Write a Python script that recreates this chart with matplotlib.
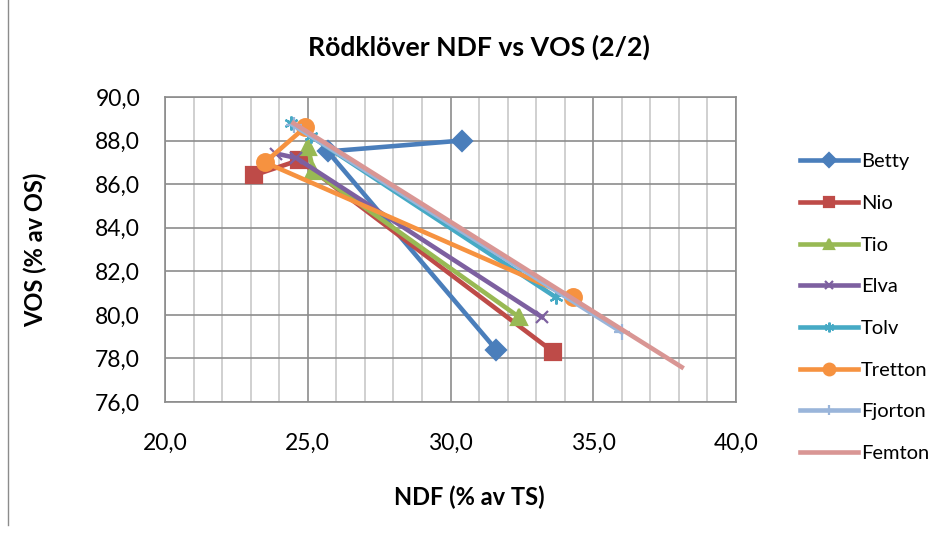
import matplotlib
matplotlib.use("Agg")
import matplotlib.pyplot as plt
from matplotlib.lines import Line2D
from matplotlib.ticker import MultipleLocator, FuncFormatter

plt.rcParams['font.family'] = ['Lato', 'DejaVu Sans']

names = ["Betty", "Nio", "Tio", "Elva", "Tolv", "Tretton", "Fjorton", "Femton"]
ndf = [
    [30.4, 25.7, 31.6],
    [23.1, 24.7, 33.6],
    [25.0, 25.2, 32.4],
    [23.9, 24.6, 33.2],
    [24.4, 25.1, 33.7],
    [24.9, 23.5, 34.3],
    [24.5, 36.0],
    [24.5, 38.1],
]
vos = [
    [88.0, 87.5, 78.4],
    [86.4, 87.1, 78.3],
    [87.7, 86.6, 79.9],
    [87.4, 87.2, 79.9],
    [88.8, 88.2, 80.8],
    [88.6, 87.0, 80.8],
    [88.7, 79.2],
    [88.8, 77.6],
]
colors = ["#4A7EBB", "#BE4B48", "#98B954", "#7D60A0", "#46AAC5", "#F69240", "#9AB5DA", "#D99694"]
markers = ["D", "s", "^", "x", (6, 2, 0), "o", "+", "None"]
msizes = [10, 11, 11, 9, 10, 12, 11, 0]

fig = plt.figure(figsize=(9.42, 5.34), dpi=100)
ax = fig.add_axes([0.1752, 0.2472, 0.6061, 0.5712])

for i in range(len(names)):
    ax.plot(ndf[i], vos[i], color=colors[i], lw=3.3, marker=markers[i],
            markersize=msizes[i], markerfacecolor=colors[i], markeredgecolor=colors[i],
            markeredgewidth=1.6, label=names[i], zorder=3 + i)

ax.set_xlim(20, 40)
ax.set_ylim(76, 90)
ax.xaxis.set_major_locator(MultipleLocator(5))
ax.xaxis.set_minor_locator(MultipleLocator(1))
ax.yaxis.set_major_locator(MultipleLocator(2))
fmt = FuncFormatter(lambda v, p: ("%.1f" % v).replace(".", ","))
ax.xaxis.set_major_formatter(fmt)
ax.yaxis.set_major_formatter(fmt)
ax.grid(which="major", color="#8C8C8C", lw=1.2, zorder=0)
ax.grid(which="minor", axis="x", color="#C8C8C8", lw=1.2, zorder=0)
ax.set_axisbelow(True)
ax.tick_params(which="both", length=0, labelsize=16.5)
ax.tick_params(axis="x", pad=22)
ax.tick_params(axis="y", pad=18)
for s in ax.spines.values():
    s.set_color("#8C8C8C")
    s.set_linewidth(1.2)

ax.set_xlabel("NDF (% av TS)", fontsize=17, fontweight="bold", va="center")
ax.set_ylabel("VOS (% av OS)", fontsize=17, fontweight="bold", va="center")
ax.xaxis.set_label_coords(0.533, -0.3115)
ax.yaxis.set_label_coords(-0.2277, 0.5)
fig.text(0.508, 0.912, "Rödklöver NDF vs VOS (2/2)", fontsize=19.2, fontweight="bold",
         ha="center", va="center")

fig.legend(loc="upper left", bbox_to_anchor=(0.841, 0.728), frameon=False,
           fontsize=14.5, handlelength=2.85, handletextpad=0.15, labelspacing=1.22,
           markerscale=0.7, borderaxespad=0)

fig.add_artist(Line2D([0.009, 0.009], [0.017, 1.0], transform=fig.transFigure,
                      color="#8C8C8C", lw=1.0))

fig.savefig("out.png", dpi=100)
